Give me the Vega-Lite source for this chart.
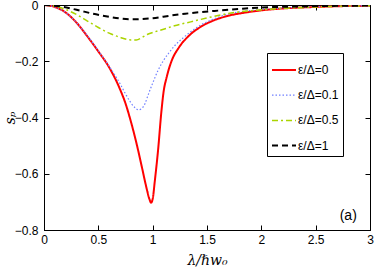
{
  "$schema": "https://vega.github.io/schema/vega-lite/v6.json",
  "width": 326,
  "height": 225,
  "autosize": {"type": "none"},
  "padding": {"left": 44, "top": 5, "right": 4, "bottom": 37},
  "config": {
    "font": "Liberation Sans",
    "view": {"stroke": "#000", "strokeWidth": 1},
    "axis": {
      "labelFont": "Liberation Sans",
      "labelFontSize": 12,
      "labelColor": "#000",
      "tickColor": "#000",
      "domainColor": "#000",
      "tickSize": -5,
      "grid": false,
      "labelFlush": false,
      "labelOverlap": false,
      "labelBound": false,
      "titleFont": "DejaVu Serif",
      "titleFontStyle": "italic",
      "titleFontWeight": "normal",
      "titleColor": "#000",
      "titleFontSize": 14
    }
  },
  "layer": [
    {
      "data": {
        "values": [
          {"s": "ε/Δ=0", "x": 0, "y": 0},
          {"s": "ε/Δ=0", "x": 0.1, "y": -0.007},
          {"s": "ε/Δ=0", "x": 0.2, "y": -0.027},
          {"s": "ε/Δ=0", "x": 0.3, "y": -0.063},
          {"s": "ε/Δ=0", "x": 0.4, "y": -0.112},
          {"s": "ε/Δ=0", "x": 0.5, "y": -0.165},
          {"s": "ε/Δ=0", "x": 0.6, "y": -0.222},
          {"s": "ε/Δ=0", "x": 0.7, "y": -0.3},
          {"s": "ε/Δ=0", "x": 0.75, "y": -0.35},
          {"s": "ε/Δ=0", "x": 0.8, "y": -0.415},
          {"s": "ε/Δ=0", "x": 0.85, "y": -0.49},
          {"s": "ε/Δ=0", "x": 0.9, "y": -0.575},
          {"s": "ε/Δ=0", "x": 0.94, "y": -0.645},
          {"s": "ε/Δ=0", "x": 0.97, "y": -0.69},
          {"s": "ε/Δ=0", "x": 0.985, "y": -0.703},
          {"s": "ε/Δ=0", "x": 1.0, "y": -0.69},
          {"s": "ε/Δ=0", "x": 1.02, "y": -0.625},
          {"s": "ε/Δ=0", "x": 1.05, "y": -0.515},
          {"s": "ε/Δ=0", "x": 1.08, "y": -0.38},
          {"s": "ε/Δ=0", "x": 1.1, "y": -0.31},
          {"s": "ε/Δ=0", "x": 1.13, "y": -0.255},
          {"s": "ε/Δ=0", "x": 1.175, "y": -0.198},
          {"s": "ε/Δ=0", "x": 1.24, "y": -0.152},
          {"s": "ε/Δ=0", "x": 1.34, "y": -0.107},
          {"s": "ε/Δ=0", "x": 1.44, "y": -0.078},
          {"s": "ε/Δ=0", "x": 1.56, "y": -0.055},
          {"s": "ε/Δ=0", "x": 1.71, "y": -0.037},
          {"s": "ε/Δ=0", "x": 1.85, "y": -0.027},
          {"s": "ε/Δ=0", "x": 2.0, "y": -0.019},
          {"s": "ε/Δ=0", "x": 2.25, "y": -0.011},
          {"s": "ε/Δ=0", "x": 2.5, "y": -0.007},
          {"s": "ε/Δ=0", "x": 2.75, "y": -0.004},
          {"s": "ε/Δ=0", "x": 3.0, "y": -0.003},
          {"s": "ε/Δ=0.1", "x": 0, "y": 0},
          {"s": "ε/Δ=0.1", "x": 0.1, "y": -0.007},
          {"s": "ε/Δ=0.1", "x": 0.2, "y": -0.027},
          {"s": "ε/Δ=0.1", "x": 0.3, "y": -0.063},
          {"s": "ε/Δ=0.1", "x": 0.4, "y": -0.11},
          {"s": "ε/Δ=0.1", "x": 0.5, "y": -0.162},
          {"s": "ε/Δ=0.1", "x": 0.6, "y": -0.218},
          {"s": "ε/Δ=0.1", "x": 0.65, "y": -0.248},
          {"s": "ε/Δ=0.1", "x": 0.7, "y": -0.28},
          {"s": "ε/Δ=0.1", "x": 0.75, "y": -0.316},
          {"s": "ε/Δ=0.1", "x": 0.8, "y": -0.348},
          {"s": "ε/Δ=0.1", "x": 0.84, "y": -0.366},
          {"s": "ε/Δ=0.1", "x": 0.87, "y": -0.373},
          {"s": "ε/Δ=0.1", "x": 0.9, "y": -0.368},
          {"s": "ε/Δ=0.1", "x": 0.93, "y": -0.35},
          {"s": "ε/Δ=0.1", "x": 0.96, "y": -0.318},
          {"s": "ε/Δ=0.1", "x": 1.0, "y": -0.278},
          {"s": "ε/Δ=0.1", "x": 1.05, "y": -0.232},
          {"s": "ε/Δ=0.1", "x": 1.1, "y": -0.197},
          {"s": "ε/Δ=0.1", "x": 1.15, "y": -0.17},
          {"s": "ε/Δ=0.1", "x": 1.2, "y": -0.146},
          {"s": "ε/Δ=0.1", "x": 1.28, "y": -0.117},
          {"s": "ε/Δ=0.1", "x": 1.34, "y": -0.098},
          {"s": "ε/Δ=0.1", "x": 1.44, "y": -0.072},
          {"s": "ε/Δ=0.1", "x": 1.56, "y": -0.05},
          {"s": "ε/Δ=0.1", "x": 1.71, "y": -0.031},
          {"s": "ε/Δ=0.1", "x": 1.85, "y": -0.022},
          {"s": "ε/Δ=0.1", "x": 2.0, "y": -0.016},
          {"s": "ε/Δ=0.1", "x": 2.25, "y": -0.01},
          {"s": "ε/Δ=0.1", "x": 2.5, "y": -0.006},
          {"s": "ε/Δ=0.1", "x": 2.75, "y": -0.004},
          {"s": "ε/Δ=0.1", "x": 3.0, "y": -0.003},
          {"s": "ε/Δ=0.5", "x": 0, "y": 0},
          {"s": "ε/Δ=0.5", "x": 0.1, "y": -0.004},
          {"s": "ε/Δ=0.5", "x": 0.2, "y": -0.016},
          {"s": "ε/Δ=0.5", "x": 0.3, "y": -0.034},
          {"s": "ε/Δ=0.5", "x": 0.4, "y": -0.057},
          {"s": "ε/Δ=0.5", "x": 0.5, "y": -0.08},
          {"s": "ε/Δ=0.5", "x": 0.6, "y": -0.1},
          {"s": "ε/Δ=0.5", "x": 0.7, "y": -0.115},
          {"s": "ε/Δ=0.5", "x": 0.8, "y": -0.124},
          {"s": "ε/Δ=0.5", "x": 0.85, "y": -0.124},
          {"s": "ε/Δ=0.5", "x": 0.9, "y": -0.116},
          {"s": "ε/Δ=0.5", "x": 0.95, "y": -0.105},
          {"s": "ε/Δ=0.5", "x": 1.0, "y": -0.098},
          {"s": "ε/Δ=0.5", "x": 1.1, "y": -0.086},
          {"s": "ε/Δ=0.5", "x": 1.2, "y": -0.074},
          {"s": "ε/Δ=0.5", "x": 1.35, "y": -0.06},
          {"s": "ε/Δ=0.5", "x": 1.5, "y": -0.046},
          {"s": "ε/Δ=0.5", "x": 1.75, "y": -0.027},
          {"s": "ε/Δ=0.5", "x": 2.0, "y": -0.017},
          {"s": "ε/Δ=0.5", "x": 2.25, "y": -0.011},
          {"s": "ε/Δ=0.5", "x": 2.5, "y": -0.007},
          {"s": "ε/Δ=0.5", "x": 2.75, "y": -0.004},
          {"s": "ε/Δ=0.5", "x": 3.0, "y": -0.003},
          {"s": "ε/Δ=1", "x": 0, "y": 0},
          {"s": "ε/Δ=1", "x": 0.15, "y": -0.005},
          {"s": "ε/Δ=1", "x": 0.3, "y": -0.017},
          {"s": "ε/Δ=1", "x": 0.45, "y": -0.031},
          {"s": "ε/Δ=1", "x": 0.6, "y": -0.042},
          {"s": "ε/Δ=1", "x": 0.7, "y": -0.048},
          {"s": "ε/Δ=1", "x": 0.8, "y": -0.051},
          {"s": "ε/Δ=1", "x": 0.9, "y": -0.05},
          {"s": "ε/Δ=1", "x": 1.0, "y": -0.047},
          {"s": "ε/Δ=1", "x": 1.16, "y": -0.038},
          {"s": "ε/Δ=1", "x": 1.3, "y": -0.031},
          {"s": "ε/Δ=1", "x": 1.45, "y": -0.025},
          {"s": "ε/Δ=1", "x": 1.6, "y": -0.02},
          {"s": "ε/Δ=1", "x": 1.8, "y": -0.014},
          {"s": "ε/Δ=1", "x": 2.0, "y": -0.009},
          {"s": "ε/Δ=1", "x": 2.25, "y": -0.006},
          {"s": "ε/Δ=1", "x": 2.5, "y": -0.004},
          {"s": "ε/Δ=1", "x": 3.0, "y": -0.002}
        ]
      },
      "mark": {"type": "line", "interpolate": "monotone", "clip": true},
      "encoding": {
        "x": {
          "field": "x", "type": "quantitative",
          "scale": {"domain": [0, 3], "nice": false, "zero": false},
          "axis": {"values": [0, 0.5, 1, 1.5, 2, 2.5, 3], "format": "~g", "title": "λ/ℏw₀", "titlePadding": 8, "labelPadding": 9}
        },
        "y": {
          "field": "y", "type": "quantitative",
          "scale": {"domain": [-0.8, 0], "nice": false, "zero": false},
          "axis": {"values": [0, -0.2, -0.4, -0.6, -0.8], "format": "~g", "title": "sₚ", "titlePadding": -3, "labelPadding": 11}
        },
        "color": {
          "field": "s", "type": "nominal",
          "scale": {"domain": ["ε/Δ=0", "ε/Δ=0.1", "ε/Δ=0.5", "ε/Δ=1"], "range": ["#ff0000", "#7080ff", "#aad400", "#000000"]},
          "legend": {
            "title": null, "orient": "none", "legendX": 223, "legendY": 48,
            "strokeColor": "#000", "fillColor": "#fff", "padding": 4,
            "symbolType": "stroke", "symbolSize": 576, "rowPadding": 6.2,
            "labelFont": "Liberation Sans", "labelFontSize": 12, "labelColor": "#000", "labelOffset": 1
          }
        },
        "strokeDash": {
          "field": "s", "type": "nominal",
          "scale": {"domain": ["ε/Δ=0", "ε/Δ=0.1", "ε/Δ=0.5", "ε/Δ=1"], "range": [[1, 0], [1.5, 2], [6, 3, 2, 3], [6, 4]]},
          "legend": {
            "title": null, "orient": "none", "legendX": 223, "legendY": 48,
            "strokeColor": "#000", "fillColor": "#fff", "padding": 4,
            "symbolType": "stroke", "symbolSize": 576, "rowPadding": 6.2,
            "labelFont": "Liberation Sans", "labelFontSize": 12, "labelColor": "#000", "labelOffset": 1
          }
        },
        "strokeWidth": {
          "field": "s", "type": "nominal",
          "scale": {"type": "ordinal", "domain": ["ε/Δ=0", "ε/Δ=0.1", "ε/Δ=0.5", "ε/Δ=1"], "range": [2, 1.2, 1.5, 2]},
          "legend": {
            "title": null, "orient": "none", "legendX": 223, "legendY": 48,
            "strokeColor": "#000", "fillColor": "#fff", "padding": 4,
            "symbolType": "stroke", "symbolSize": 576, "rowPadding": 6.2,
            "labelFont": "Liberation Sans", "labelFontSize": 12, "labelColor": "#000", "labelOffset": 1
          }
        }
      }
    },
    {
      "data": {"values": [{"x": 2.8, "y": -0.749, "t": "(a)"}]},
      "mark": {"type": "text", "font": "Liberation Sans", "fontSize": 14, "color": "#000", "baseline": "middle", "align": "center"},
      "encoding": {
        "x": {
          "field": "x", "type": "quantitative",
          "scale": {"domain": [0, 3], "nice": false, "zero": false},
          "axis": {"orient": "top", "values": [0, 0.5, 1, 1.5, 2, 2.5, 3], "labels": false, "domain": false, "title": null}
        },
        "y": {
          "field": "y", "type": "quantitative",
          "scale": {"domain": [-0.8, 0], "nice": false, "zero": false},
          "axis": {"orient": "right", "values": [0, -0.2, -0.4, -0.6, -0.8], "labels": false, "domain": false, "title": null}
        },
        "text": {"field": "t"}
      }
    }
  ],
  "resolve": {"axis": {"x": "independent", "y": "independent"}}
}
